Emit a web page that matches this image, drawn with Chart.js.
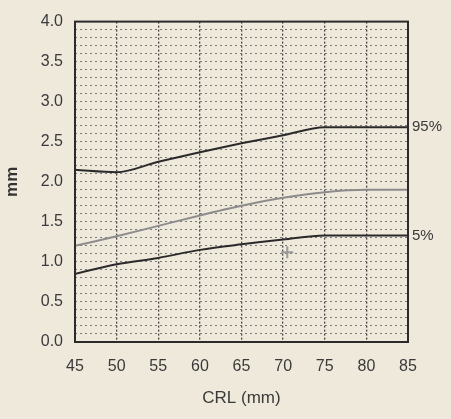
<!DOCTYPE html>
<html>
<head>
<meta charset="utf-8">
<script src="https://cdn.jsdelivr.net/npm/chart.js@4.4.1/dist/chart.umd.min.js"></script>
<style>
  html, body { margin: 0; padding: 0; background: #efe9dc; }
  #wrap { width: 451px; height: 419px; }
</style>
</head>
<body>
<div id="wrap"><canvas id="ntChart"></canvas></div>
<script>
// CRL (mm) against NT thickness (mm)
const crl = [45, 50, 55, 60, 65, 70, 75, 80, 85];
const p95 = [2.15, 2.12, 2.25, 2.37, 2.48, 2.58, 2.68, 2.68, 2.68];
const p50 = [1.20, 1.32, 1.45, 1.58, 1.70, 1.80, 1.87, 1.90, 1.90];
const p5 = [0.85, 0.97, 1.05, 1.15, 1.22, 1.28, 1.33, 1.33, 1.33];
const markX = [70.5];
const markY = [1.12];
const yLabels = ['0.0', '0.5', '1.0', '1.5', '2.0', '2.5', '3.0', '3.5', '4.0'];

const toPts = (ys) => crl.map((x, i) => ({ x: x, y: ys[i] }));

// paper background, frame and the end labels
const paperPlugin = {
  id: 'paper',
  beforeDraw(chart) {
    const c = chart.ctx;
    c.save();
    c.fillStyle = '#efe9dc';
    c.fillRect(0, 0, chart.width, chart.height);
    c.restore();
  },
  afterDatasetsDraw(chart) {
    const c = chart.ctx;
    const a = chart.chartArea;
    const ys = chart.scales.y;
    c.save();
    c.strokeStyle = '#2b2b2b';
    c.lineWidth = 2;
    c.strokeRect(a.left, a.top, a.right - a.left, a.bottom - a.top);
    c.fillStyle = '#3a3a3a';
    c.font = '15px "Liberation Sans", Arial, sans-serif';
    c.textBaseline = 'middle';
    c.fillText('95%', a.right + 4, ys.getPixelForValue(p95[p95.length - 1]));
    c.fillText('5%', a.right + 4, ys.getPixelForValue(p5[p5.length - 1]));
    c.restore();
  }
};

const font = { family: '"Liberation Sans", Arial, sans-serif', size: 16 };

new Chart(document.getElementById('ntChart'), {
  type: 'line',
  data: {
    datasets: [
      { data: toPts(p95), borderColor: '#2a2a2a', borderWidth: 2, pointRadius: 0, tension: 0.4, cubicInterpolationMode: 'monotone' },
      { data: toPts(p50), borderColor: '#8c8c8c', borderWidth: 2, pointRadius: 0, tension: 0.4, cubicInterpolationMode: 'monotone' },
      { data: toPts(p5), borderColor: '#2a2a2a', borderWidth: 2, pointRadius: 0, tension: 0.4, cubicInterpolationMode: 'monotone' },
      { type: 'scatter', data: markX.map((x, i) => ({ x: x, y: markY[i] })), pointStyle: 'cross', pointRadius: 6, borderWidth: 2, borderColor: '#9a9a9a', showLine: false }
    ]
  },
  options: {
    responsive: true,
    maintainAspectRatio: false,
    animation: false,
    layout: { padding: { left: 0, right: 43, top: 21, bottom: 8 } },
    plugins: { legend: { display: false }, tooltip: { enabled: false } },
    scales: {
      x: {
        type: 'linear', min: 45, max: 85,
        afterFit(s) { s.height = 69; },
        ticks: { stepSize: 5, color: '#3a3a3a', font: font, padding: 15, maxRotation: 0 },
        grid: { color: '#444', lineWidth: 1.3, tickLength: 0 },
        border: { display: false, dash: [2, 2] },
        title: { display: true, text: 'CRL (mm)', color: '#3a3a3a', font: { family: font.family, size: 17 }, padding: { top: 4, bottom: 2 } }
      },
      y: {
        min: 0, max: 4,
        afterFit(s) { s.width = 75; },
        afterBuildTicks(s) {
          s.ticks = [];
          for (let i = 0; i <= 40; i++) s.ticks.push({ value: i / 10 });
        },
        ticks: {
          autoSkip: false, color: '#3a3a3a', font: font, padding: 12,
          callback(v) {
            const k = Math.round(v * 10);
            return k % 5 === 0 ? yLabels[k / 5] : '';
          }
        },
        grid: { color: '#7a7a7a', lineWidth: 1, tickLength: 0 },
        border: { display: false, dash: [2, 3] },
        title: { display: true, text: 'mm', color: '#333', font: { family: font.family, size: 17, weight: 'bold' }, padding: { top: 2, bottom: 0 } }
      }
    }
  },
  plugins: [paperPlugin]
});
</script>
</body>
</html>
